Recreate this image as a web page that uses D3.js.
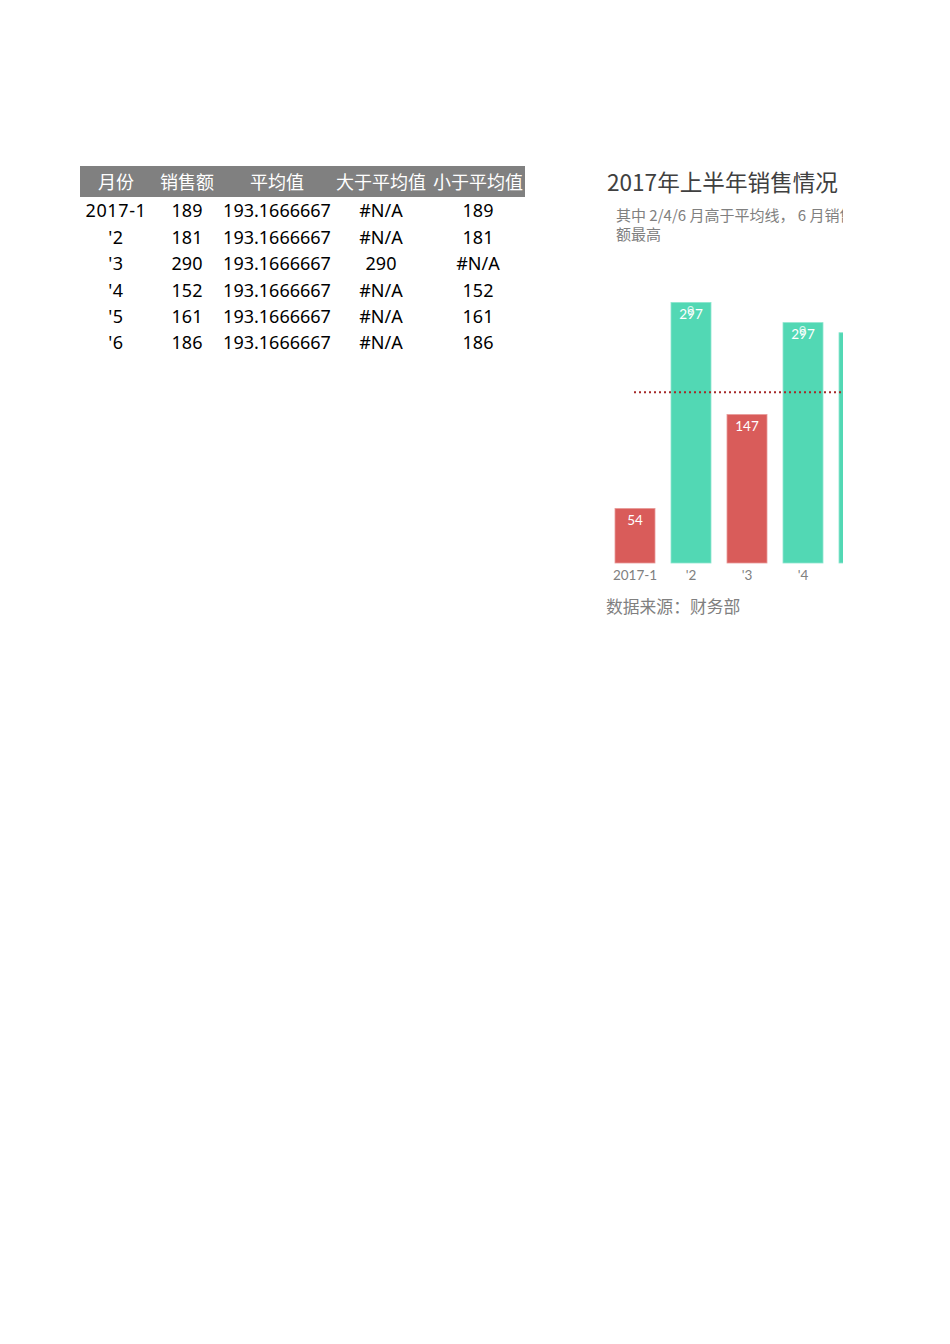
<!DOCTYPE html>
<html>
<head>
<meta charset="utf-8">
<script src="https://cdn.jsdelivr.net/npm/d3@7"></script>
<style>
  body { margin: 0; background: #fff; }
  svg { display: block; }
</style>
</head>
<body>
<svg id="sheet" width="950" height="1344"></svg>
<script>

// table on the left
var headers   = ['月份', '销售额', '平均值', '大于平均值', '小于平均值'];
var months    = ['2017-1', "'2", "'3", "'4", "'5", "'6"];
var sales     = [189, 181, 290, 152, 161, 186];
var averages  = ['193.1666667', '193.1666667', '193.1666667', '193.1666667', '193.1666667', '193.1666667'];
var aboveAvg  = ['#N/A', '#N/A', '290', '#N/A', '#N/A', '#N/A'];
var belowAvg  = ['189', '181', '#N/A', '152', '161', '186'];

// chart on the right (as it is drawn, cut off at the sheet edge)
var chartTitle    = '2017年上半年销售情况';
var chartSubtitle = ['其中 2/4/6 月高于平均线， 6 月销售', '额最高'];
var chartSource   = '数据来源：财务部';
var chartCats     = ['2017-1', "'2", "'3", "'4", "'5"];
var chartValues   = [54, 258, 147, 238, 228];
var chartHigh     = [false, true, false, true, true];
var chartLabels   = ['54', '297', '147', '297', ''];
var chartGhost    = ['', '9', '', '9', ''];
var chartAverage  = 169;

var svg = d3.select('#sheet');

var cjk = '"Noto Sans CJK SC", "Noto Sans", sans-serif';
var num = 'Lato, "Noto Sans", sans-serif';

// ---- table ----
var colX = [116, 187, 277, 381, 478];
var rowY = d3.scaleLinear().domain([0, 1]).range([211, 237.4]);

var table = svg.append('g');

table.append('rect')
    .attr('x', 80)
    .attr('y', 166)
    .attr('width', 445)
    .attr('height', 31)
    .attr('fill', '#808080');

table.selectAll('.head')
    .data(headers)
    .enter()
    .append('text')
    .attr('class', 'head')
    .attr('x', function(d, i) { return colX[i]; })
    .attr('y', 182.5)
    .attr('dy', '0.35em')
    .attr('text-anchor', 'middle')
    .attr('fill', '#ffffff')
    .style('font-family', cjk)
    .style('font-size', '18px')
    .text(function(d) { return d; });

var rows = months.map(function(m, i) {
    return [m, String(sales[i]), averages[i], aboveAvg[i], belowAvg[i]];
});

rows.forEach(function(row, r) {
    table.selectAll('.row' + r)
        .data(row)
        .enter()
        .append('text')
        .attr('class', 'row' + r)
        .attr('x', function(d, i) { return colX[i]; })
        .attr('y', rowY(r))
        .attr('dy', '0.35em')
        .attr('text-anchor', 'middle')
        .attr('fill', '#000000')
        .style('font-family', '"Noto Sans", sans-serif')
        .style('font-size', '18px')
        .style('letter-spacing', function(d, i) { return i === 0 ? '0.6px' : '0px'; })
        .text(function(d) { return d; });
});

// ---- chart ----
var clipRight = 843;

svg.append('clipPath')
    .attr('id', 'chartclip')
    .append('rect')
    .attr('x', 560)
    .attr('y', 140)
    .attr('width', clipRight - 560)
    .attr('height', 500);

var chart = svg.append('g').attr('clip-path', 'url(#chartclip)');

chart.append('text')
    .attr('x', 607)
    .attr('y', 183)
    .attr('dy', '0.35em')
    .attr('fill', '#404040')
    .style('font-family', cjk)
    .style('font-size', '22.6px')
    .text(chartTitle);

chart.selectAll('.sub')
    .data(chartSubtitle)
    .enter()
    .append('text')
    .attr('class', 'sub')
    .attr('x', 616)
    .attr('y', function(d, i) { return 216 + i * 19; })
    .attr('dy', '0.35em')
    .attr('fill', '#808080')
    .style('font-family', cjk)
    .style('font-size', '15px')
    .text(function(d) { return d; });

var x = d3.scaleBand()
    .domain(chartCats)
    .range([607, 607 + 56 * chartCats.length])
    .paddingInner(16 / 56)
    .paddingOuter(8 / 56);

var y = d3.scaleLinear()
    .domain([0, 300])
    .range([563, 260]);

chart.selectAll('.bar')
    .data(chartValues)
    .enter()
    .append('rect')
    .attr('class', 'bar')
    .attr('x', function(d, i) { return x(chartCats[i]); })
    .attr('y', function(d) { return y(d); })
    .attr('width', x.bandwidth())
    .attr('height', function(d) { return y(0) - y(d); })
    .attr('fill', function(d, i) { return chartHigh[i] ? '#52d8b4' : '#d95c5a'; })
    .attr('stroke', function(d, i) { return chartHigh[i] ? '#8ee6cf' : '#e89a98'; })
    .attr('stroke-width', 0.8);

chart.selectAll('.ghost')
    .data(chartGhost)
    .enter()
    .append('text')
    .attr('class', 'ghost')
    .attr('x', function(d, i) { return x(chartCats[i]) + x.bandwidth() / 2 - 0.5; })
    .attr('y', function(d, i) { return y(chartValues[i]) + 13.5; })
    .attr('text-anchor', 'middle')
    .attr('fill', '#ffffff')
    .attr('opacity', 0.75)
    .style('font-family', num)
    .style('font-size', '13px')
    .text(function(d) { return d; });

chart.selectAll('.label')
    .data(chartLabels)
    .enter()
    .append('text')
    .attr('class', 'label')
    .attr('x', function(d, i) { return x(chartCats[i]) + x.bandwidth() / 2; })
    .attr('y', function(d, i) { return y(chartValues[i]) + 16.5; })
    .attr('text-anchor', 'middle')
    .attr('fill', '#ffffff')
    .style('font-family', num)
    .style('font-size', '13.5px')
    .text(function(d) { return d; });

chart.append('line')
    .attr('x1', 634)
    .attr('x2', 900)
    .attr('y1', y(chartAverage))
    .attr('y2', y(chartAverage))
    .attr('stroke', '#a52a2a')
    .attr('stroke-width', 2)
    .attr('stroke-dasharray', '2,3');

chart.selectAll('.tick')
    .data(chartCats)
    .enter()
    .append('text')
    .attr('class', 'tick')
    .attr('x', function(d) { return x(d) + x.bandwidth() / 2; })
    .attr('y', 575)
    .attr('dy', '0.35em')
    .attr('text-anchor', 'middle')
    .attr('fill', '#808080')
    .style('font-family', num)
    .style('font-size', '13.5px')
    .text(function(d) { return d; });

chart.append('text')
    .attr('x', 606)
    .attr('y', 607)
    .attr('dy', '0.35em')
    .attr('fill', '#808080')
    .style('font-family', cjk)
    .style('font-size', '16.8px')
    .text(chartSource);

</script>
</body>
</html>
